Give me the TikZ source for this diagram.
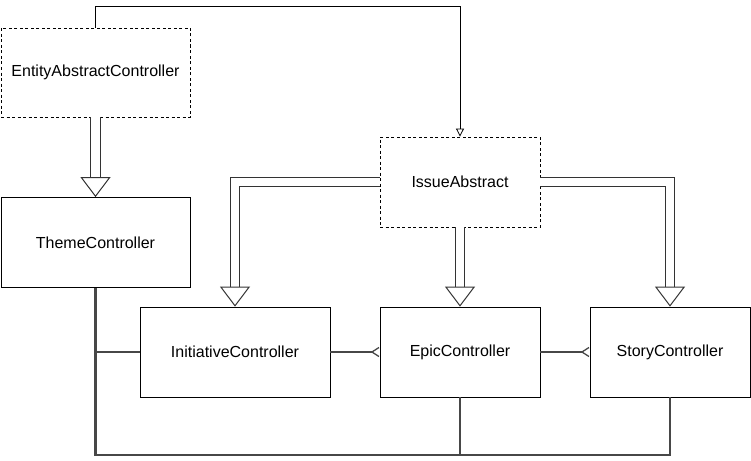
\documentclass[tikz,border=0pt]{standalone}
\usepackage{fontspec}
\setmainfont{Liberation Sans}
\usetikzlibrary{arrows.meta}

\tikzset{
  cls/.style={draw, line width=0.8pt, minimum width=160pt, minimum height=90pt,
    inner sep=0pt, font=\fontsize{16}{19}\selectfont},
  abstractcls/.style={cls, dash pattern=on 3pt off 2.5pt},
  inherit/.style={draw=black!80, line width=1pt, double=white, double distance=8.5pt,
    -{Triangle[open, length=20pt, width=30pt, line width=1pt]}},
  dep/.style={line width=0.8pt, -{Triangle[open, length=8pt, width=8pt]}},
  assoc/.style={draw=black!72, line width=2.3pt},
  many/.style={assoc, -{Straight Barb[reversed, length=7pt, width=9pt, line width=1.3pt]}}
}

\begin{document}
\begin{tikzpicture}[x=1pt, y=-1pt]
\useasboundingbox (0,0) rectangle (751,460);

  \node[abstractcls, minimum width=189pt, minimum height=89pt] (ent) at (95.5,72.5) {EntityAbstractController};
  \node[cls, minimum width=189pt] (thm) at (95.5,242.5) {ThemeController};
  \node[abstractcls] (iss) at (460,182) {IssueAbstract};
  \node[cls, minimum width=190pt] (ini) at (235,352) {InitiativeController};
  \node[cls] (epi) at (460,352) {EpicController};
  \node[cls] (sto) at (670,352) {StoryController};

  \coordinate (bus) at (95.5,455);

 \draw[dep] (ent.north) -- ++(0,-21) -| (iss.north);

 \draw[inherit] (ent.south) -- (thm.north);
 \draw[inherit] (iss.west) -| (ini.north);
 \draw[inherit] (iss.south) -- (epi.north);
 \draw[inherit] (iss.east) -| (sto.north);

 \draw[assoc] (thm.south) -- (bus) -| (sto.south);
 \draw[assoc] (epi.south) -- (epi.south |- bus);
 \draw[assoc] (ini.west) -- (ini.west -| bus);

 \draw[many] (ini.east) -- (epi.west);
 \draw[many] (epi.east) -- (sto.west);
\end{tikzpicture}
\end{document}
